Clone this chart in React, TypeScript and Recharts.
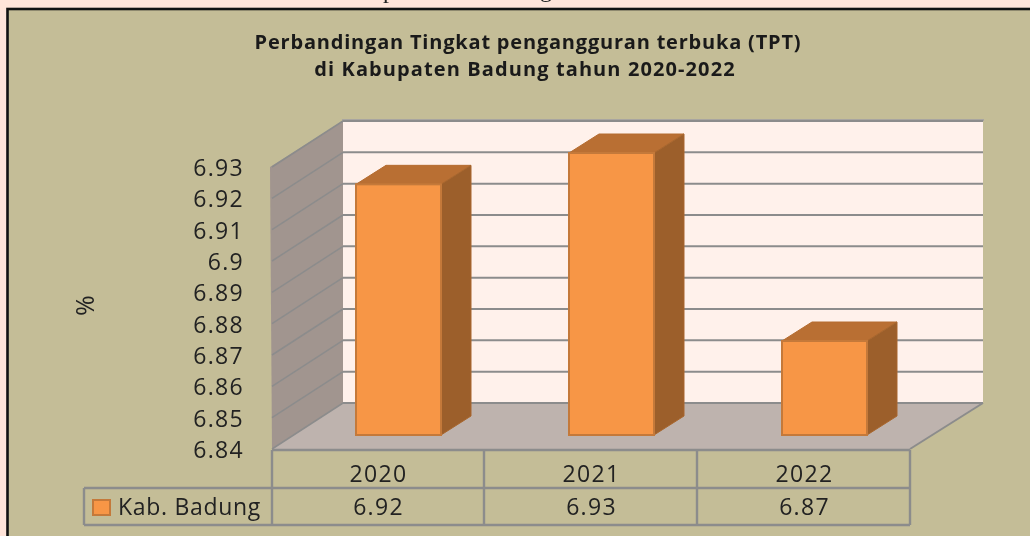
import React from 'react';
import { BarChart, Bar, XAxis, YAxis, CartesianGrid } from 'recharts';

const categories = ['2020', '2021', '2022'];
const seriesName = 'Kab. Badung';
const values = [6.92, 6.93, 6.87];
const yTicks = [6.84, 6.85, 6.86, 6.87, 6.88, 6.89, 6.9, 6.91, 6.92, 6.93];
const titleLines = ['Perbandingan Tingkat pengangguran terbuka (TPT)', 'di Kabupaten Badung tahun 2020-2022'];

const chartData = categories.map((year, i) => ({ year, value: values[i] }));

const W = 1030;
const H = 536;

// bars stand on a plane between the front edge and the back wall of the fake 3D box
const FRONT_DX = -20;
const FRONT_DY = 14;
const BACK_DX = 51;
const BACK_DY = -32;
const BAR_DX = 30;
const BAR_DY = -19;

const LINE = '#8c8c8c';
const FONT = '"Open Sans", sans-serif';
const TEXT = '#222';

function Bar3D({ x, y, width, height }: any) {
  const r = x + width;
  const b = y + height;
  return (
    <g>
      <polygon
        points={`${x},${y} ${x + BAR_DX},${y + BAR_DY} ${r + BAR_DX},${y + BAR_DY} ${r},${y}`}
        fill="#B96F33"
        stroke="#B56C30"
      />
      <polygon
        points={`${r},${y} ${r + BAR_DX},${y + BAR_DY} ${r + BAR_DX},${b + BAR_DY} ${r},${b}`}
        fill="#9C5F2B"
        stroke="#A9672E"
      />
      <rect x={x} y={y} width={width} height={height} fill="#F79646" stroke="#C4793A" strokeWidth={2} />
    </g>
  );
}

function GridLine({ x1, x2, y1 }: any) {
  const back = y1 + BACK_DY;
  return (
    <g stroke={LINE} strokeWidth={2} fill="none">
      <line x1={x1 + FRONT_DX} y1={y1 + FRONT_DY} x2={x1 + BACK_DX} y2={back} strokeWidth={1.5} />
      <line x1={x1 + BACK_DX} y1={back} x2={x2 + BACK_DX + 1} y2={back} />
    </g>
  );
}

function YTick({ y, payload }: any) {
  return (
    <text x={244} y={y + FRONT_DY + 9} textAnchor="end" fontSize={23} letterSpacing={1.3} fontFamily={FONT} fill={TEXT}>
      {payload.value}
    </text>
  );
}

function TableTick({ x, index, payload }: any) {
  const cx = x + FRONT_DX;
  return (
    <g textAnchor="middle" fontSize={23} letterSpacing={1.3} fontFamily={FONT} fill={TEXT}>
      <text x={cx} y={482}>{payload.value}</text>
      <text x={cx} y={515}>{values[index]}</text>
    </g>
  );
}

function Backdrop() {
  return (
    <svg width={W} height={H} style={{ position: 'absolute', left: 0, top: 0 }}>
      <rect x={0} y={0} width={W} height={H} fill="#FFE4D9" />
      {/* descenders of the page text cut off by the top of the picture */}
      <g fontFamily='"Liberation Serif", serif' fontSize={24} fill="#222">
        <text x={383} y={-2}>p</text>
        <text x={540} y={-3}>g</text>
      </g>
      <rect x={7.5} y={9} width={W + 20} height={H + 20} fill="#C4BD97" stroke="#111" strokeWidth={2.6} />
      <text x={528} y={49} textAnchor="middle" fontSize={20} letterSpacing={0.8} fontWeight={700} fontFamily={FONT} fill="#1a1a1a">
        {titleLines[0]}
      </text>
      <text x={525} y={76} textAnchor="middle" fontSize={20} letterSpacing={1.1} fontWeight={700} fontFamily={FONT} fill="#1a1a1a">
        {titleLines[1]}
      </text>
      <polygon points="343,121 983,121 983,403 343,403" fill="#FFF1EB" />
      <line x1={342} y1={120} x2={984} y2={120} stroke="#A8A5A0" strokeWidth={2} />
      <polygon points="270,167 343,121 343,403 272,449" fill="#A1958F" />
      <polygon points="272,449 343,403 983,403 910,449" fill="#BEB3AE" />
      <g stroke={LINE} strokeWidth={2.4} fill="none">
        <line x1={910} y1={449} x2={983} y2={403} strokeWidth={2} />
        <line x1={272} y1={450} x2={910} y2={450} />
        <line x1={84} y1={488} x2={910} y2={488} />
        <line x1={84} y1={525} x2={910} y2={525} />
        <line x1={84} y1={488} x2={84} y2={525} />
        <line x1={272} y1={450} x2={272} y2={525} />
        <line x1={484} y1={450} x2={484} y2={525} />
        <line x1={697} y1={450} x2={697} y2={525} />
        <line x1={910} y1={450} x2={910} y2={525} />
      </g>
      <rect x={93} y={500} width={17} height={15} fill="#F79646" stroke="#C4793A" strokeWidth={2} />
      <text x={118} y={515} fontSize={23} letterSpacing={0.7} fontFamily={FONT} fill={TEXT}>
        {seriesName}
      </text>
    </svg>
  );
}

export default function App() {
  return (
    <div style={{ position: 'fixed', left: 0, top: 0, width: W, height: H, overflow: 'hidden' }}>
      <Backdrop />
      <div style={{ position: 'absolute', left: 0, top: 0 }}>
        <BarChart
          width={W}
          height={H}
          data={chartData}
          margin={{ top: 153, right: 99, bottom: 0, left: 0 }}
        >
          <CartesianGrid vertical={false} horizontal={(props: any) => <GridLine key={props.key} {...props} />} />
          <XAxis
            dataKey="year"
            height={101}
            axisLine={false}
            tickLine={false}
            interval={0}
            tick={TableTick}
          />
          <YAxis
            width={292}
            domain={[6.84, 6.93]}
            ticks={yTicks}
            axisLine={false}
            tickLine={false}
            tick={YTick}
            label={{
              value: '%',
              angle: -90,
              position: 'insideLeft',
              offset: 85,
              dy: 22,
              fontSize: 25,
              fontFamily: FONT,
              fill: TEXT,
            }}
          />
          <Bar dataKey="value" name={seriesName} barSize={85} shape={Bar3D} isAnimationActive={false} />
        </BarChart>
      </div>
    </div>
  );
}
